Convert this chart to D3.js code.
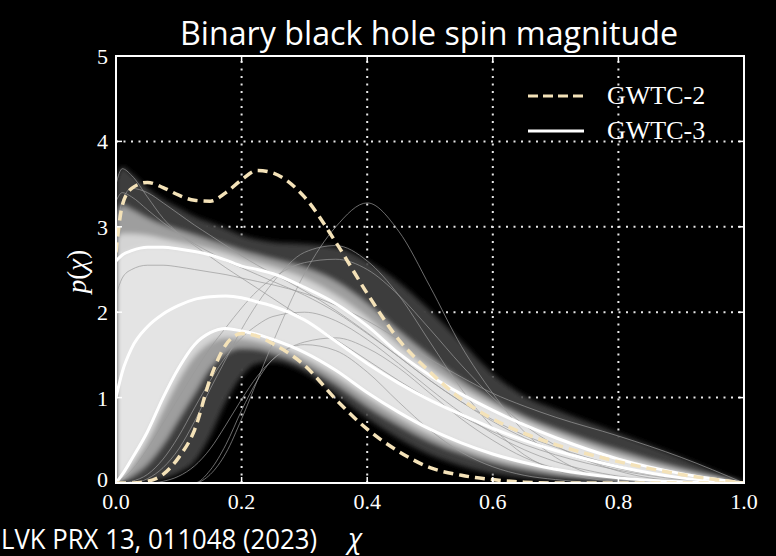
<!DOCTYPE html>
<html>
<head>
<meta charset="utf-8">
<script src="https://cdn.jsdelivr.net/npm/d3@7"></script>
<style>
  html, body { margin: 0; padding: 0; background: #000; }
  svg { display: block; }
</style>
</head>
<body>
<div id="chart"></div>
<script>
// spin magnitude grid (chi) and curves
const chi = [0, 0.01, 0.025, 0.05, 0.075, 0.1, 0.125, 0.15, 0.175, 0.2, 0.225, 0.25,
  0.3, 0.35, 0.4, 0.45, 0.5, 0.55, 0.6, 0.65, 0.7, 0.8, 0.9, 1.0];

// GWTC-2 90% bounds (dashed)
const gwtc2Upper = [2.70, 3.25, 3.45, 3.52, 3.46, 3.37, 3.31, 3.30, 3.40, 3.55, 3.66, 3.63,
  3.35, 2.82, 2.22, 1.68, 1.30, 0.98, 0.75, 0.58, 0.45, 0.25, 0.10, 0];
const gwtc2Lower = [0, 0, 0, 0.02, 0.10, 0.30, 0.62, 1.22, 1.62, 1.75, 1.72, 1.63,
  1.38, 0.98, 0.63, 0.37, 0.18, 0.09, 0.04, 0.01, 0, 0, 0, 0];

// GWTC-3 median and 90% bounds (solid white)
const gwtc3Upper = [2.60, 2.67, 2.72, 2.76, 2.76, 2.74, 2.71, 2.67, 2.61, 2.54, 2.50, 2.45,
  2.29, 2.10, 1.84, 1.52, 1.26, 1.04, 0.85, 0.68, 0.53, 0.28, 0.11, 0];
const gwtc3Median = [1.00, 1.30, 1.58, 1.83, 1.98, 2.08, 2.15, 2.18, 2.19, 2.17, 2.12, 2.07,
  1.91, 1.66, 1.40, 1.17, 0.97, 0.80, 0.64, 0.50, 0.38, 0.19, 0.06, 0];
const gwtc3Lower = [0, 0.10, 0.28, 0.60, 1.00, 1.35, 1.62, 1.76, 1.81, 1.78, 1.74, 1.68,
  1.53, 1.32, 1.06, 0.83, 0.63, 0.47, 0.34, 0.24, 0.16, 0.06, 0.015, 0];

// envelopes of the grey posterior draws (outer, middle, dense core)
const outerTop = [3.55, 3.70, 3.62, 3.45, 3.32, 3.22, 3.12, 3.05, 2.98, 2.90, 2.85, 2.82,
  2.80, 2.76, 2.60, 2.35, 2.02, 1.65, 1.28, 1.02, 0.86, 0.58, 0.30, 0];
const outerBottom = [0, 0, 0, 0.02, 0.05, 0.12, 0.25, 0.55, 0.95, 1.25, 1.40, 1.42,
  1.30, 1.04, 0.76, 0.52, 0.33, 0.20, 0.11, 0.06, 0.03, 0.005, 0, 0];
const midTop = [3.15, 3.25, 3.20, 3.10, 3.02, 2.96, 2.90, 2.84, 2.78, 2.72, 2.67, 2.62,
  2.52, 2.36, 2.10, 1.78, 1.48, 1.20, 0.97, 0.78, 0.63, 0.38, 0.17, 0];
const midBottom = [0, 0.02, 0.08, 0.22, 0.45, 0.75, 1.05, 1.35, 1.52, 1.58, 1.57, 1.52,
  1.38, 1.16, 0.90, 0.68, 0.49, 0.35, 0.24, 0.16, 0.10, 0.04, 0.01, 0];
const coreTop = [2.85, 2.92, 2.92, 2.90, 2.86, 2.82, 2.78, 2.74, 2.69, 2.63, 2.58, 2.53,
  2.40, 2.20, 1.94, 1.62, 1.35, 1.11, 0.91, 0.73, 0.58, 0.32, 0.13, 0];
const coreBottom = [0, 0.06, 0.20, 0.48, 0.85, 1.20, 1.48, 1.64, 1.70, 1.69, 1.66, 1.61,
  1.46, 1.25, 1.00, 0.77, 0.57, 0.42, 0.30, 0.21, 0.14, 0.05, 0.01, 0];

// a few individual draws that stand out
const sampleDraws = [
  [0, 0, 0, 0, 0, 0, 0, 0.10, 0.35, 0.75, 1.20, 1.65, 2.45, 3.00, 3.28, 2.95, 2.30, 1.60, 1.05, 0.60, 0.30, 0.04, 0, 0],
  [0, 0, 0, 0.05, 0.18, 0.40, 0.72, 1.10, 1.45, 1.80, 2.10, 2.35, 2.70, 2.78, 2.60, 2.20, 1.65, 1.10, 0.65, 0.33, 0.15, 0.02, 0, 0],
  [0, 0, 0, 0, 0, 0, 0, 0.15, 0.45, 0.85, 1.20, 1.45, 1.62, 1.55, 1.30, 0.95, 0.62, 0.36, 0.19, 0.09, 0.04, 0, 0, 0],
  [3.50, 3.68, 3.60, 3.35, 3.10, 2.92, 2.78, 2.65, 2.52, 2.40, 2.28, 2.16, 1.92, 1.68, 1.44, 1.20, 0.98, 0.78, 0.60, 0.45, 0.33, 0.15, 0.04, 0],
  [0, 0.05, 0.15, 0.40, 0.70, 1.00, 1.30, 1.58, 1.82, 2.05, 2.25, 2.40, 2.58, 2.62, 2.50, 2.20, 1.80, 1.38, 1.00, 0.68, 0.44, 0.14, 0.02, 0],
  [2.20, 2.40, 2.50, 2.55, 2.55, 2.53, 2.50, 2.47, 2.44, 2.40, 2.36, 2.32, 2.22, 2.08, 1.90, 1.68, 1.45, 1.24, 1.05, 0.90, 0.77, 0.55, 0.30, 0],
  [3.30, 3.40, 3.35, 3.20, 3.05, 2.92, 2.80, 2.70, 2.60, 2.52, 2.44, 2.36, 2.20, 2.00, 1.75, 1.48, 1.20, 0.95, 0.72, 0.53, 0.38, 0.17, 0.05, 0],
  [0, 0, 0, 0, 0.02, 0.08, 0.20, 0.40, 0.68, 0.98, 1.25, 1.45, 1.65, 1.70, 1.58, 1.35, 1.05, 0.75, 0.50, 0.30, 0.17, 0.04, 0, 0],
  [0, 0, 0.02, 0.10, 0.28, 0.55, 0.88, 1.20, 1.48, 1.70, 1.85, 1.95, 2.00, 1.90, 1.68, 1.40, 1.10, 0.82, 0.58, 0.39, 0.25, 0.08, 0.01, 0],
  [2.90, 3.30, 3.45, 3.40, 3.28, 3.15, 3.02, 2.90, 2.78, 2.66, 2.55, 2.45, 2.25, 2.02, 1.76, 1.48, 1.20, 0.95, 0.74, 0.56, 0.42, 0.20, 0.06, 0]
];

const xTicks = [0, 0.2, 0.4, 0.6, 0.8, 1.0];
const yTicks = [0, 1, 2, 3, 4, 5];
const legendItems = [
  { label: "GWTC-2", dashed: true },
  { label: "GWTC-3", dashed: false }
];

const W = 776, H = 556;
const margin = { left: 116, right: 32, top: 56, bottom: 73 };
const CREAM = "#f4e2b8";

const svg = d3.select("#chart").append("svg")
  .attr("width", W).attr("height", H)
  .style("background", "#000");

const x = d3.scaleLinear().domain([0, 1]).range([margin.left, W - margin.right]);
const y = d3.scaleLinear().domain([0, 5]).range([H - margin.bottom, margin.top]);

const defs = svg.append("defs");
defs.append("clipPath").attr("id", "plotClip")
  .append("rect")
  .attr("x", x(0)).attr("y", y(5))
  .attr("width", x(1) - x(0)).attr("height", y(0) - y(5));
defs.append("filter").attr("id", "soft")
  .attr("x", "-5%").attr("y", "-5%").attr("width", "110%").attr("height", "110%")
  .append("feGaussianBlur").attr("stdDeviation", 2.5);

// title
svg.append("text")
  .attr("x", 429).attr("y", 45)
  .attr("text-anchor", "middle")
  .attr("fill", "#fff")
  .attr("font-family", "'Open Sans', 'Noto Sans', sans-serif")
  .attr("font-size", 32)
  .attr("textLength", 498).attr("lengthAdjust", "spacingAndGlyphs")
  .text("Binary black hole spin magnitude");

// dotted grid
const grid = svg.append("g");
grid.selectAll("line.gx").data(xTicks.slice(1, -1)).join("line")
  .attr("x1", d => x(d)).attr("x2", d => x(d))
  .attr("y1", y(0)).attr("y2", y(5));
grid.selectAll("line.gy").data(yTicks.slice(1, -1)).join("line")
  .attr("x1", x(0)).attr("x2", x(1))
  .attr("y1", d => y(d)).attr("y2", d => y(d));
grid.selectAll("line")
  .attr("stroke", "#e8e8e8")
  .attr("stroke-width", 2)
  .attr("stroke-dasharray", "2 5.5");

const plot = svg.append("g").attr("clip-path", "url(#plotClip)");

const band = (lo, hi) => d3.area()
  .x((d, i) => x(chi[i]))
  .y0((d, i) => y(lo[i]))
  .y1((d, i) => y(hi[i]))
  .curve(d3.curveMonotoneX);
const line = d3.line()
  .x((d, i) => x(chi[i]))
  .y(d => y(d))
  .curve(d3.curveMonotoneX);

// grey cloud of draws
const cloud = plot.append("g").attr("filter", "url(#soft)");
cloud.append("path").datum(chi).attr("d", band(outerBottom, outerTop))
  .attr("fill", "#3e3e3e");
cloud.append("path").datum(chi).attr("d", band(midBottom, midTop))
  .attr("fill", "#9e9e9e");
cloud.append("path").datum(chi).attr("d", band(coreBottom, coreTop))
  .attr("fill", "#d4d4d4");
cloud.append("path").datum(chi).attr("d", band(gwtc3Lower, gwtc3Upper))
  .attr("fill", "#e4e4e4");

plot.append("g").selectAll("path").data(sampleDraws).join("path")
  .attr("d", line)
  .attr("fill", "none")
  .attr("stroke", "#9a9a9a")
  .attr("stroke-opacity", 0.7)
  .attr("stroke-width", 1);

// GWTC-3 lines
plot.append("g").selectAll("path").data([gwtc3Upper, gwtc3Median, gwtc3Lower]).join("path")
  .attr("d", line)
  .attr("fill", "none")
  .attr("stroke", "#fff")
  .attr("stroke-width", 3);

// GWTC-2 dashed bounds
plot.append("g").selectAll("path").data([gwtc2Upper, gwtc2Lower]).join("path")
  .attr("d", line)
  .attr("fill", "none")
  .attr("stroke", CREAM)
  .attr("stroke-width", 3.5)
  .attr("stroke-dasharray", "10 6");

// frame and inward ticks
svg.append("rect")
  .attr("x", x(0)).attr("y", y(5))
  .attr("width", x(1) - x(0)).attr("height", y(0) - y(5))
  .attr("fill", "none").attr("stroke", "#fff").attr("stroke-width", 2);

const tickLen = 6;
const ticks = svg.append("g").attr("stroke", "#fff").attr("stroke-width", 1.5);
ticks.selectAll("line.xb").data(xTicks).join("line").attr("class", "xb")
  .attr("x1", d => x(d)).attr("x2", d => x(d))
  .attr("y1", y(0)).attr("y2", y(0) - tickLen);
ticks.selectAll("line.xt").data(xTicks).join("line").attr("class", "xt")
  .attr("x1", d => x(d)).attr("x2", d => x(d))
  .attr("y1", y(5)).attr("y2", y(5) + tickLen);
ticks.selectAll("line.yl").data(yTicks).join("line").attr("class", "yl")
  .attr("x1", x(0)).attr("x2", x(0) + tickLen)
  .attr("y1", d => y(d)).attr("y2", d => y(d));
ticks.selectAll("line.yr").data(yTicks).join("line").attr("class", "yr")
  .attr("x1", x(1)).attr("x2", x(1) - tickLen)
  .attr("y1", d => y(d)).attr("y2", d => y(d));

// tick labels
const serif = "'Liberation Serif', 'DejaVu Serif', serif";
svg.append("g").selectAll("text").data(xTicks).join("text")
  .attr("x", d => x(d)).attr("y", y(0) + 26)
  .attr("text-anchor", "middle")
  .attr("fill", "#fff")
  .attr("font-family", serif).attr("font-size", 22)
  .text(d3.format(".1f"));
svg.append("g").selectAll("text").data(yTicks).join("text")
  .attr("x", x(0) - 8).attr("y", d => y(d) + (d === 0 ? 4 : 8))
  .attr("text-anchor", "end")
  .attr("fill", "#fff")
  .attr("font-family", serif).attr("font-size", 22)
  .text(d => d);

// y label p(χ)
const ylab = svg.append("text")
  .attr("transform", `translate(86,${y(2.5) + 2}) rotate(-90)`)
  .attr("text-anchor", "middle")
  .attr("fill", "#fff")
  .attr("font-family", serif).attr("font-size", 27);
ylab.append("tspan").attr("font-style", "italic").text("p");
ylab.append("tspan").text("(");
ylab.append("tspan").attr("font-style", "italic").text("χ");
ylab.append("tspan").text(")");

// legend
const legend = svg.append("g");
legendItems.forEach((d, i) => {
  const ly = 96 + i * 35;
  legend.append("line")
    .attr("x1", 528).attr("x2", 584)
    .attr("y1", ly).attr("y2", ly)
    .attr("stroke", d.dashed ? CREAM : "#fff")
    .attr("stroke-width", 3)
    .attr("stroke-dasharray", d.dashed ? "10 5" : null);
  legend.append("text")
    .attr("x", 607).attr("y", ly + 8)
    .attr("fill", "#fff")
    .attr("font-family", serif).attr("font-size", 26)
    .text(d.label);
});

// footer citation and x label
svg.append("text")
  .attr("x", 1).attr("y", 549)
  .attr("fill", "#fff")
  .attr("font-family", "'Open Sans', 'Noto Sans', sans-serif")
  .attr("font-size", 27)
  .attr("textLength", 316).attr("lengthAdjust", "spacingAndGlyphs")
  .text("LVK PRX 13, 011048 (2023)");
svg.append("text")
  .attr("x", 355).attr("y", 548)
  .attr("text-anchor", "middle")
  .attr("fill", "#fff")
  .attr("font-family", "'Open Sans', 'Noto Sans', sans-serif")
  .attr("font-style", "italic")
  .attr("font-size", 27)
  .text("χ");
</script>
</body>
</html>
